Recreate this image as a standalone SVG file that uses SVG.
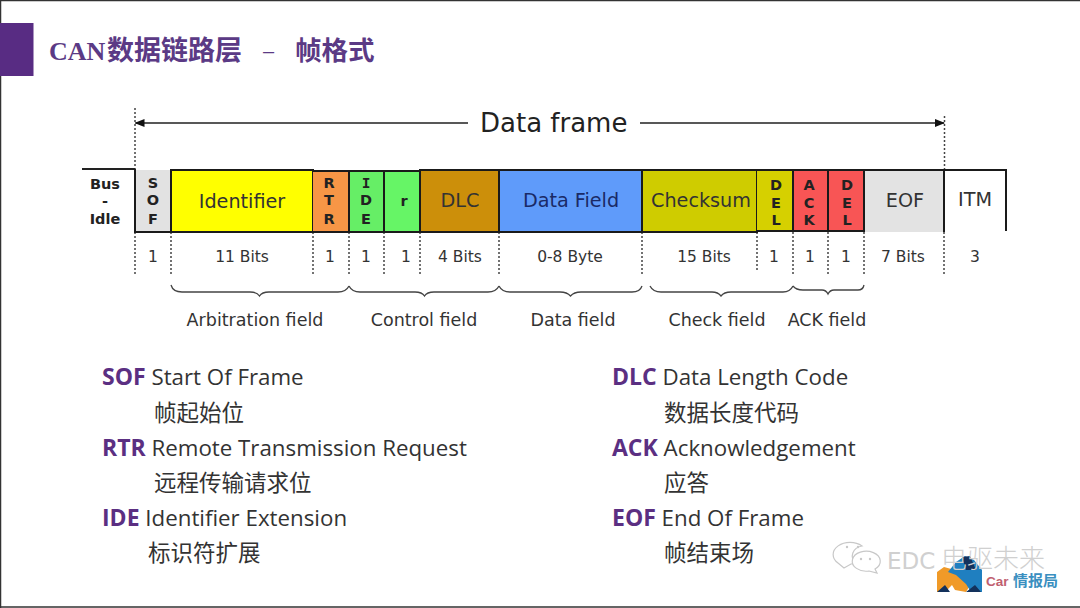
<svg xmlns="http://www.w3.org/2000/svg" width="1080" height="608" viewBox="0 0 1080 608">
<defs>
<marker id="ah" markerWidth="10" markerHeight="8" refX="9" refY="4" orient="auto-start-reverse" markerUnits="userSpaceOnUse"><path d="M0 0L10 4L0 8Z" fill="#111"/></marker>
</defs>
<style>
text{font-family:"DejaVu Sans","Noto Sans CJK SC",sans-serif;fill:#2a2a2a}
.lbl{font-size:19.200px;text-anchor:middle;fill:#333}
.num{font-size:15.500px;text-anchor:middle;fill:#333}
.fld{font-size:17.500px;text-anchor:middle;fill:#333}
.v{font-size:14.500px;font-weight:700;text-anchor:middle;fill:#222}
.vm{font-family:"DejaVu Sans Mono",sans-serif}
.k{font-family:"Open Sans","Noto Sans CJK SC",sans-serif;font-size:22.300px;fill:#333}
.k tspan{font-weight:700;fill:#5b2f82;font-size:23px}
.c{font-family:"Noto Sans CJK SC",sans-serif;font-size:22.500px;fill:#333}
.t{font-family:"Noto Sans CJK SC",sans-serif;font-weight:700;fill:#5b3a85}
.cell{stroke:#1a1a1a;stroke-width:2;fill:none}
.dot{stroke:#444;stroke-width:1.500;stroke-dasharray:2 2;fill:none}
.br{stroke:#444;stroke-width:1.300;fill:none}
</style>
<rect width="1080" height="608" fill="#fff"/>
<path d="M0.500 608V0.500H1080M0 607H1080" fill="none" stroke="#333" stroke-width="1.500"/>
<rect x="0" y="23" width="33.500" height="53" fill="#582c83"/>
<text x="49" y="60" style="font-family:'Liberation Serif','Noto Sans CJK SC',serif;font-size:26px;font-weight:700;fill:#5b3a85">CAN</text>
<text class="t" x="107" y="60" style="font-size:27px">数据链路层</text>
<text x="263" y="58" style="font-family:'Liberation Sans',sans-serif;font-size:20px;fill:#5b3a85">–</text>
<text class="t" x="295" y="60" style="font-size:26.500px">帧格式</text>

<g id="connectors">
<path class="dot" d="M135 108V170M944.500 116V170M135 232V276M171 232V274M313 232V274M349 232V274M384 232V274M420 232V274M499 232V274M642 232V274M757 232V272M793 232V274M828 232V274M864 232V274M944 232V274"/>
<path d="M135.500 123H468M640 123H944" stroke="#222" stroke-width="1.600" fill="none" marker-start="url(#ah)" marker-end="url(#ah)"/>
<path d="M82 169H135" stroke="#222" stroke-width="1.800" fill="none"/>
<g>
<path class="br" d="M171 285Q173 292 182 292H250Q257 292 259.500 296Q262 292 269 292H338Q346 292 349 286"/>
<path class="br" d="M349 286Q352 292 360 292H415Q422 292 424.500 296Q427 292 434 292H488Q496 292 499 286"/>
<path class="br" d="M499 286Q502 292 510 292H560Q567 292 570.500 296Q574 292 581 292H632Q640 292 642 286"/>
<path class="br" d="M650 286Q653 292 661 292H712Q718 292 721 296Q724 292 731 292H783Q790 292 793 286"/>
<path class="br" d="M793 286Q796 290 803 290H822Q826 290 828 294Q830 290 834 290H858Q863 290 864 285"/>
</g>
</g>

<g id="bus-idle"><text class="v" x="105" y="189">Bus</text><text class="v" x="105" y="206">-</text><text class="v" x="105" y="224">Idle</text></g>
<g id="sof"><rect x="135" y="170" width="36" height="62" fill="#e2e2e2"/><path class="cell" d="M135 169V232H171"/><text class="v" x="153" y="188">S</text><text class="v" x="153" y="205">O</text><text class="v" x="153" y="224">F</text></g>
<g id="identifier"><rect x="171" y="170" width="142" height="62" fill="#ffff00"/><rect class="cell" x="171" y="170" width="142" height="62"/><text class="lbl" x="242" y="208">Identifier</text></g>
<g id="rtr"><rect x="313" y="171" width="36" height="61" fill="#f79646"/><path class="cell" d="M313 232H349M313 171H349"/><text class="v" x="329" y="188">R</text><text class="v" x="329" y="205">T</text><text class="v" x="329" y="224">R</text></g>
<g id="ide"><rect x="349" y="171" width="35" height="61" fill="#66ee66"/><rect class="cell" x="349" y="171" width="35" height="61"/><text class="v vm" x="366" y="188">I</text><text class="v" x="366" y="205">D</text><text class="v" x="366" y="224">E</text></g>
<g id="r"><rect x="384" y="171" width="36" height="61" fill="#66f566"/><rect class="cell" x="384" y="171" width="36" height="61"/><text class="v" x="404" y="206">r</text></g>
<g id="dlc"><rect x="420" y="170" width="79" height="62" fill="#cc8f0a"/><rect class="cell" x="420" y="170" width="79" height="62"/><text class="lbl" x="460" y="207">DLC</text></g>
<g id="data-field"><rect x="499" y="170" width="143" height="62" fill="#5f9bfa"/><rect class="cell" x="499" y="170" width="143" height="62"/><text class="lbl" x="571" y="207" style="fill:#1a2a66">Data Field</text></g>
<g id="checksum"><rect x="642" y="170" width="115" height="62" fill="#cfcc00"/><rect class="cell" x="642" y="170" width="115" height="62"/><text class="lbl" x="701" y="207">Checksum</text></g>
<g id="del1"><rect x="757" y="170" width="36" height="61" fill="#d6d000"/><path class="cell" d="M757 170H793M757 231H793"/><text class="v" x="776" y="190">D</text><text class="v" x="776" y="208">E</text><text class="v" x="776" y="225">L</text></g>
<g id="ack"><rect x="793" y="170" width="35" height="61" fill="#f85555"/><rect class="cell" x="793" y="170" width="35" height="61"/><text class="v" x="809" y="190">A</text><text class="v" x="809" y="208">C</text><text class="v" x="809" y="225">K</text></g>
<g id="del2"><rect x="828" y="170" width="36" height="61" fill="#f85555"/><rect class="cell" x="828" y="170" width="36" height="61"/><text class="v" x="847" y="190">D</text><text class="v" x="847" y="208">E</text><text class="v" x="847" y="225">L</text></g>
<g id="eof"><rect x="865" y="171" width="79" height="61" fill="#e3e3e3"/><path class="cell" d="M864 170H944"/><text class="lbl" x="905" y="207">EOF</text></g>
<g id="itm"><path d="M944 232V170H1006V231" fill="none" stroke="#1a1a1a" stroke-width="2"/><text class="lbl" x="975" y="206">ITM</text></g>

<g id="bits">
<text class="num" x="153" y="262">1</text><text class="num" x="242" y="262">11 Bits</text><text class="num" x="330" y="262">1</text><text class="num" x="366" y="262">1</text><text class="num" x="406" y="262">1</text><text class="num" x="460" y="262">4 Bits</text><text class="num" x="570" y="262">0-8 Byte</text><text class="num" x="704" y="262">15 Bits</text><text class="num" x="774" y="262">1</text><text class="num" x="810" y="262">1</text><text class="num" x="846" y="262">1</text><text class="num" x="903" y="262">7 Bits</text><text class="num" x="975" y="262">3</text>
</g>
<g id="fields">
<text class="fld" x="255" y="326">Arbitration field</text><text class="fld" x="424" y="326">Control field</text><text class="fld" x="573" y="326">Data field</text><text class="fld" x="717" y="326">Check field</text><text class="fld" x="827" y="326">ACK field</text>
</g>
<g id="legend">
<text class="k" x="102" y="385"><tspan>SOF</tspan> Start Of Frame</text><text class="c" x="154" y="421">帧起始位</text>
<text class="k" x="102" y="456"><tspan>RTR</tspan> Remote Transmission Request</text><text class="c" x="154" y="491">远程传输请求位</text>
<text class="k" x="102" y="526"><tspan>IDE</tspan> Identifier Extension</text><text class="c" x="148" y="561">标识符扩展</text>
<text class="k" x="612" y="385"><tspan>DLC</tspan> Data Length Code</text><text class="c" x="664" y="421">数据长度代码</text>
<text class="k" x="612" y="456"><tspan>ACK</tspan> Acknowledgement</text><text class="c" x="664" y="491">应答</text>
<text class="k" x="612" y="526"><tspan>EOF</tspan> End Of Frame</text><text class="c" x="664" y="561">帧结束场</text>
</g>
<text x="480" y="132" style="font-size:26px;fill:#222">Data frame</text>

<g id="watermark">
<path d="M850 568l7-4a16 11 0 0 0 5-1a12 10 0 0 1 6-17a16 11.500 0 1 0-24 17Z" transform="translate(-6 0)" fill="#fff" stroke="#c8c8c8" stroke-width="1.200"/>
<path d="M877 573l-2-4a14 10 0 1 0-6 2Z" fill="#fff" stroke="#c8c8c8" stroke-width="1.200"/>
<circle cx="847" cy="547" r="1.200" fill="#c8c8c8"/><circle cx="858" cy="547" r="1.200" fill="#c8c8c8"/><circle cx="861" cy="559" r="1.200" fill="#c8c8c8"/><circle cx="870" cy="559" r="1.200" fill="#c8c8c8"/>
<path d="M937 592V572L944 567L955 570L958 576L972 582L966 592L955 590L952 585L945 592Z" fill="#f09a28"/>
<path d="M956 562L965 556L974 560L982 570V592H971L966 584L956 575L948 572Z" fill="#1f7fc0"/>
<path d="M962 557L970 556L976 570H966ZM937 592L945 585L950 592ZM966 592L975 585L981 592Z" fill="#13315c"/>
<text x="887" y="569" style="font-family:'DejaVu Sans',sans-serif;font-size:23px;fill:#d0d0d0">EDC</text>
<text x="941" y="568" style="font-family:'Noto Sans CJK SC',sans-serif;font-size:26px;font-weight:300;fill:#d0d0d0">电驱未来</text>
<text x="986" y="586" style="font-family:'Liberation Sans',sans-serif;font-size:13.500px;font-weight:700;fill:#c06070">Car</text>
<text x="1013" y="586" style="font-family:'Noto Sans CJK SC',sans-serif;font-size:15px;font-weight:700;fill:#3a8fc0">情报局</text>
</g>
</svg>
